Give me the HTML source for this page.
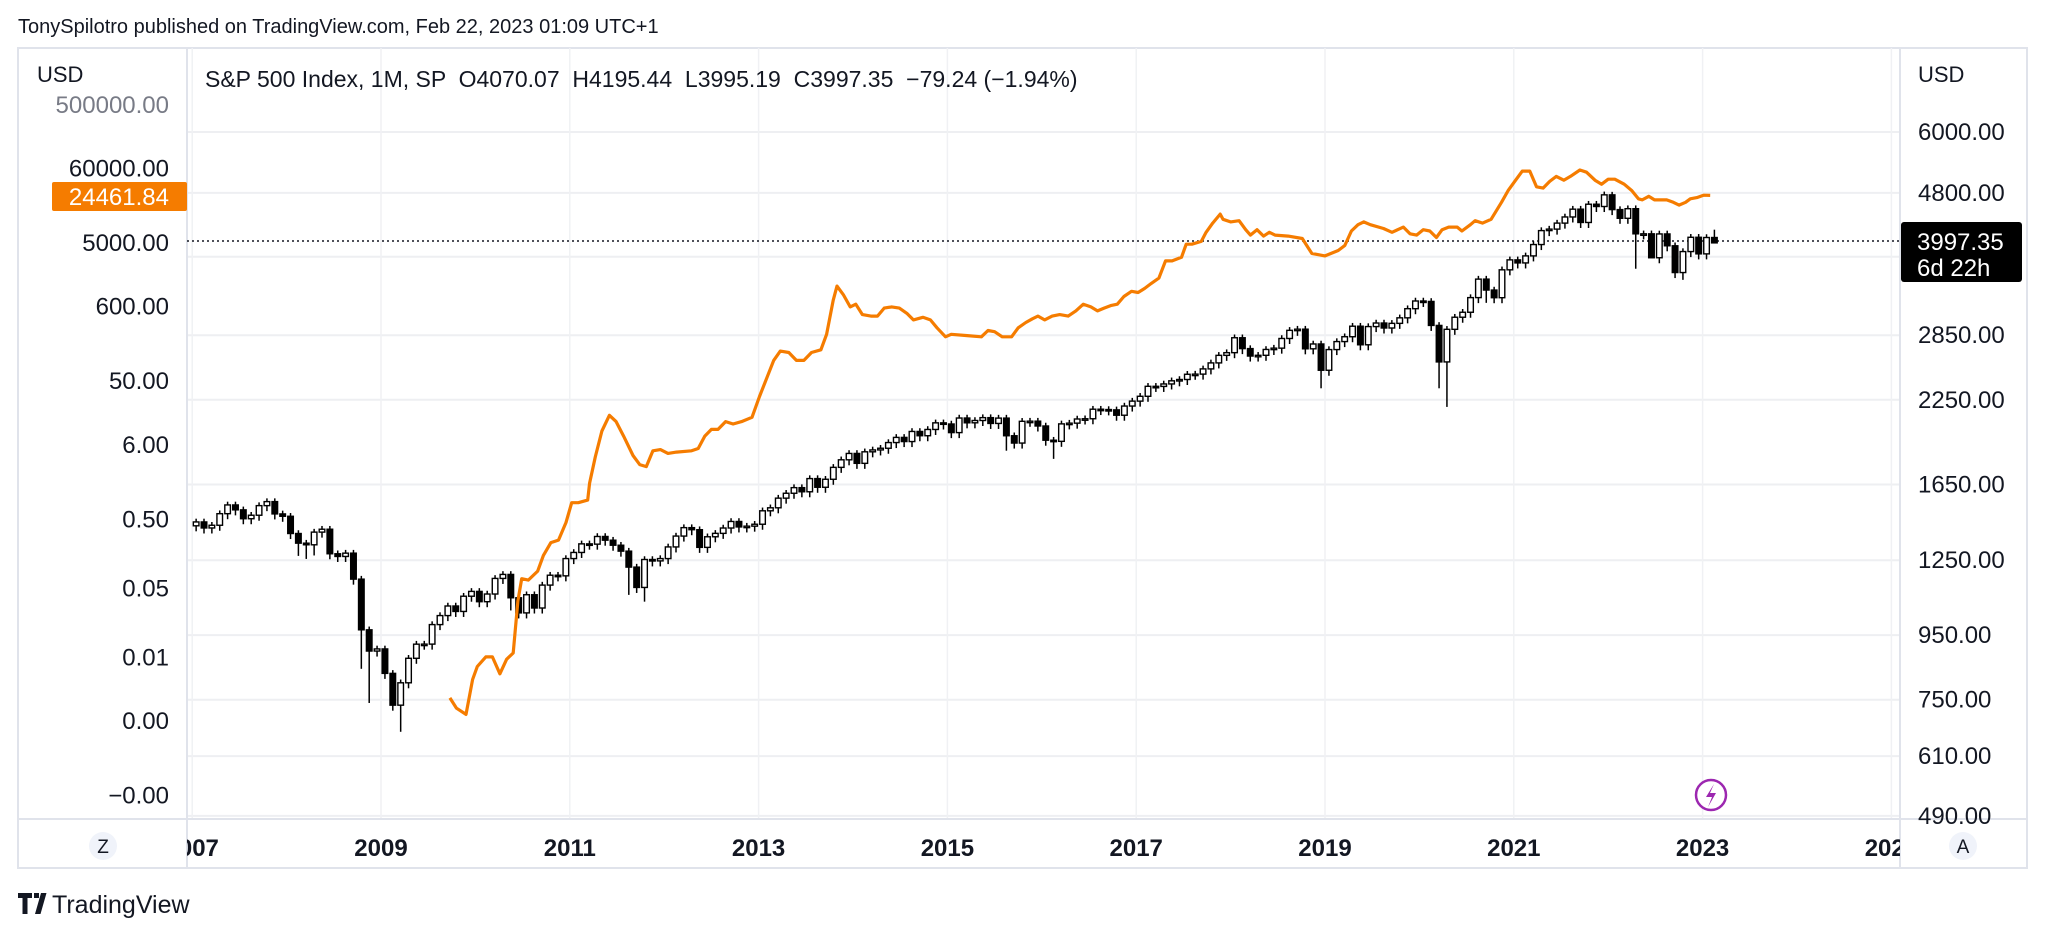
<!DOCTYPE html>
<html><head><meta charset="utf-8"><style>
html,body{margin:0;padding:0;background:#fff;}
body{width:2048px;height:936px;overflow:hidden;font-family:"Liberation Sans",sans-serif;}
svg text{font-family:"Liberation Sans",sans-serif;}
</style></head><body>
<svg id="chart" width="2048" height="936" viewBox="0 0 2048 936" xmlns="http://www.w3.org/2000/svg">
<text x="18" y="33" font-size="20" fill="#131722">TonySpilotro published on TradingView.com, Feb 22, 2023 01:09 UTC+1</text>
<rect x="18" y="48" width="2009" height="820" fill="none" stroke="#e0e3eb" stroke-width="2"/>
<g id="grid"></g>
<line x1="187" y1="48" x2="187" y2="868" stroke="#e0e3eb" stroke-width="2"/>
<line x1="1900" y1="48" x2="1900" y2="868" stroke="#e0e3eb" stroke-width="2"/>
<line x1="18" y1="819" x2="2027" y2="819" stroke="#e0e3eb" stroke-width="2"/>
<text x="37" y="82" font-size="22" fill="#131722">USD</text>
<text x="1918" y="82" font-size="22" fill="#131722">USD</text>
<text x="205" y="87" font-size="23" fill="#131722" xml:space="preserve">S&amp;P 500 Index, 1M, SP  O4070.07  H4195.44  L3995.19  C3997.35  −79.24 (−1.94%)</text>
<g id="leftAxis"></g>
<g id="rightAxis"></g>
<g id="timeAxis"></g>
<line x1="187" y1="241" x2="1900" y2="241" stroke="#131722" stroke-width="1.5" stroke-dasharray="2,3"/>
<g id="candles"></g>
<path id="btc" fill="none" stroke="#f57c00" stroke-width="3.2" stroke-linejoin="round"/>
<rect x="52" y="182" width="135" height="29" rx="2" fill="#f57c00"/>
<text x="169" y="205" font-size="24" fill="#fff" text-anchor="end">24461.84</text>
<rect x="1901" y="222" width="121" height="60" rx="3" fill="#000"/>
<text x="1917" y="250" font-size="24" fill="#fff">3997.35</text>
<text x="1917" y="276" font-size="24" fill="#fff">6d 22h</text>
<g><circle cx="1711" cy="795" r="15" fill="#fff" stroke="#9c27b0" stroke-width="2.5"/><path d="M1714 784 L1706 797 L1712 797 L1708 807 L1716 793 L1710 793 Z" fill="#9c27b0"/></g>
<g><circle cx="103" cy="846" r="14" fill="#f0f3fa"/><text x="103" y="853" font-size="19" fill="#131722" text-anchor="middle">Z</text></g>
<g><circle cx="1963" cy="846" r="14" fill="#f0f3fa"/><text x="1963" y="853" font-size="19" fill="#131722" text-anchor="middle">A</text></g>
<g><path d="M18 893h14v5h-4.5v16h-5v-16h-4.5z M34 893h5v5h-5z M41 893h5.5l-6 21h-5.5z" fill="#131722"/><text x="52" y="913" font-size="25" fill="#131722">TradingView</text></g>
</svg>
<script>
const years=[2007,2009,2011,2013,2015,2017,2019,2021,2023,2025];
const rightTicks=[6000,4800,3800,2850,2250,1650,1250,950,750,610,490];
const rightTickLabels=["6000.00","4800.00","","2850.00","2250.00","1650.00","1250.00","950.00","750.00","610.00","490.00"];
const leftTicks=[500000,60000,5000,600,50,6,0.5,0.05,0.005,0.0006,0.00005];
const leftTickLabels=["500000.00","60000.00","5000.00","600.00","50.00","6.00","0.50","0.05","0.01","0.00","−0.00"];
const spxCloses=[
1438.24,1406.82,1420.86,1482.37,1530.62,1503.35,1455.27,1473.99,1526.75,1549.38,1481.14,1468.36,
1378.55,1330.63,1322.70,1385.59,1400.38,1280.00,1267.38,1282.83,1166.36,968.75,896.24,903.25,
825.88,735.09,797.87,872.81,919.14,919.32,987.48,1020.62,1057.08,1036.19,1095.63,1115.10,
1073.87,1104.49,1169.43,1186.69,1089.41,1030.71,1101.60,1049.33,1141.20,1183.26,1180.55,1257.64,
1286.12,1327.22,1325.83,1363.61,1345.20,1320.64,1292.28,1218.89,1131.42,1253.30,1246.96,1257.60,
1312.41,1365.68,1408.47,1397.91,1310.33,1362.16,1379.32,1406.58,1440.67,1412.16,1416.18,1426.19,
1498.11,1514.68,1569.19,1597.57,1630.74,1606.28,1685.73,1632.97,1681.55,1756.54,1805.81,1848.36,
1782.59,1859.45,1872.34,1883.95,1923.57,1960.23,1930.67,2003.37,1972.29,2018.05,2067.56,2058.90,
1994.99,2104.50,2067.89,2085.51,2107.39,2063.11,2103.84,1972.18,1920.03,2079.36,2080.41,2043.94,
1940.24,1932.23,2059.74,2065.30,2096.95,2098.86,2173.60,2170.95,2168.27,2126.15,2198.81,2238.83,
2278.87,2363.64,2362.72,2384.20,2411.80,2423.41,2470.30,2471.65,2519.36,2575.26,2647.58,2673.61,
2823.81,2713.83,2640.87,2648.05,2705.27,2718.37,2816.29,2901.52,2913.98,2711.74,2760.17,2506.85,
2704.10,2784.49,2834.40,2945.83,2752.06,2941.76,2980.38,2926.46,2976.74,3037.56,3140.98,3230.78,
3225.52,2954.22,2584.59,2912.43,3044.31,3100.29,3271.12,3500.31,3363.00,3269.96,3621.63,3756.07,
3714.24,3811.15,3972.89,4181.17,4204.11,4297.50,4395.26,4522.68,4307.54,4605.38,4567.00,4766.18,
4515.55,4373.94,4530.41,4131.93,4132.15,3785.38,4130.29,3955.00,3585.62,3871.98,4080.11,3839.50,
4076.60,3997.35];
const spxFirstOpen=1418.03;
const spxLowMonths=[13,14,15,21,22,26,40,42,55,57,103,109,143,158,159,164,183,185,189,193];
const spxLowValues=[1270,1256,1272,839.8,741,666.8,1040,1010,1101,1074,1867,1812,2346.6,2346.6,2191.9,3209,3636,3900,3491,3995.2];
const spxHighMonths=[180,193];
const spxHighValues=[4818.6,4195.4];
const btcDates=[2009.73,2009.80,2009.90,2009.97,2010.02,2010.11,2010.18,2010.26,2010.33,2010.40,2010.45,2010.49,2010.56,2010.66,2010.72,2010.80,2010.88,2010.96,2011.02,2011.09,2011.19,2011.21,2011.27,2011.34,2011.42,2011.49,2011.57,2011.67,2011.74,2011.81,2011.88,2011.96,2012.04,2012.13,2012.29,2012.36,2012.43,2012.50,2012.57,2012.65,2012.73,2012.82,2012.93,2013.01,2013.09,2013.16,2013.23,2013.32,2013.40,2013.48,2013.56,2013.66,2013.72,2013.79,2013.83,2013.90,2013.97,2014.03,2014.10,2014.19,2014.26,2014.33,2014.41,2014.49,2014.57,2014.64,2014.74,2014.82,2014.89,2014.98,2015.04,2015.21,2015.36,2015.43,2015.50,2015.58,2015.68,2015.75,2015.83,2015.90,2015.96,2016.03,2016.11,2016.19,2016.28,2016.36,2016.44,2016.52,2016.59,2016.66,2016.73,2016.80,2016.87,2016.95,2017.02,2017.09,2017.16,2017.24,2017.31,2017.38,2017.48,2017.53,2017.59,2017.69,2017.74,2017.81,2017.89,2017.92,2018.00,2018.09,2018.16,2018.21,2018.28,2018.35,2018.41,2018.47,2018.61,2018.76,2018.82,2018.86,2019.00,2019.14,2019.21,2019.28,2019.35,2019.41,2019.48,2019.62,2019.71,2019.83,2019.90,2019.97,2020.04,2020.11,2020.18,2020.24,2020.31,2020.40,2020.45,2020.54,2020.59,2020.67,2020.76,2020.87,2020.94,2021.01,2021.09,2021.17,2021.24,2021.31,2021.38,2021.45,2021.53,2021.60,2021.70,2021.77,2021.86,2021.93,2022.00,2022.07,2022.17,2022.25,2022.32,2022.36,2022.43,2022.49,2022.62,2022.69,2022.75,2022.82,2022.87,2022.94,2023.01,2023.08];
const btcValues=[0.0013,0.00092,0.00075,0.0024,0.0037,0.0051,0.0051,0.0029,0.0047,0.0058,0.033,0.069,0.066,0.089,0.15,0.23,0.25,0.45,0.87,0.87,0.95,1.67,4.0,9.5,16,13,8,4.2,3.1,2.9,4.9,5.1,4.5,4.7,4.9,5.3,8,10,10,13,12,13,15,30,57,100,136,130,100,100,130,142,238,740,1190,880,594,650,460,437,437,570,594,570,480,385,420,385,296,219,238,228,219,271,260,219,219,296,353,400,437,385,437,460,437,520,650,594,520,570,620,650,840,1000,960,1100,1300,1550,2750,2750,3100,4800,4800,5270,7150,9700,13100,11000,10100,10500,7800,6500,7800,6300,7150,6500,6300,5800,4300,3540,3250,3900,4600,7450,9200,10100,9200,8100,7150,8500,6800,6500,7800,7450,6000,7800,8500,8500,7450,9200,10500,9700,11000,19400,28700,39000,55000,55000,32600,31200,39000,46000,40500,46000,57000,53000,40500,35500,42000,42000,35500,28700,21800,21000,23700,21000,21000,19400,17700,19400,21800,22700,24600,24462];

const NS="http://www.w3.org/2000/svg";
const X0=187,X1=1900,Y0=48,YB=819;
const xYear=y=>381+(y-2009)*94.4;
const yR=v=>132+(Math.log(6000)-Math.log(v))*273;
const yL=v=>243+(Math.log(5000)-Math.log(v))*30;
function mk(tag,attrs,parent){const e=document.createElementNS(NS,tag);for(const k in attrs)e.setAttribute(k,attrs[k]);parent.appendChild(e);return e;}
const grid=document.getElementById('grid');
rightTicks.forEach((t,i)=>{const y=yR(t);
 const l=mk('line',{x1:X0,x2:X1,y1:y,y2:y,stroke:'#eeeff2','stroke-width':2},grid);
 
 
 if(rightTickLabels[i]){const tx=mk('text',{x:1918,y:y+8,'font-size':24,fill:'#131722'},document.getElementById('rightAxis'));tx.textContent=rightTickLabels[i];
 
 }
});
years.forEach(yr=>{const x=xYear(yr);
 if(x>X0&&x<X1){const l=mk('line',{x1:x,x2:x,y1:Y0,y2:YB,stroke:'#f0f1f4','stroke-width':1.5},grid);
 
 }
});
const ta=document.getElementById('timeAxis');
const clip=mk('clipPath',{id:'tclip'},document.getElementById('chart'));mk('rect',{x:X0,y:820,width:X1-X0,height:48},clip);
years.forEach(yr=>{const tx=mk('text',{x:xYear(yr),y:856,'font-size':24,'font-weight':'bold',fill:'#131722','text-anchor':'middle','clip-path':'url(#tclip)'},ta);tx.textContent=String(yr);
 
 });
const la=document.getElementById('leftAxis');
leftTicks.forEach((t,i)=>{const tx=mk('text',{x:169,y:yL(t)+8,'font-size':24,fill:i===0?'#787b86':'#131722','text-anchor':'end'},la);tx.textContent=leftTickLabels[i];
 
 });
const cg=document.getElementById('candles');
const lowMap={},highMap={};spxLowMonths.forEach((m,i)=>lowMap[m]=spxLowValues[i]);spxHighMonths.forEach((m,i)=>highMap[m]=spxHighValues[i]);
spxCloses.forEach((c,i)=>{const o=i===0?spxFirstOpen:spxCloses[i-1];
 const hi=highMap[i]||Math.max(o,c)*1.012, lo=lowMap[i]||Math.min(o,c)*0.98;
 const x=xYear(2007+(i+0.5)/12), up=c>=o;
 const g=mk('g',{},cg);
 
 
 mk('line',{x1:x,x2:x,y1:yR(hi),y2:yR(lo),stroke:'#000','stroke-width':1.5},g);
 const yt=yR(Math.max(o,c)),yb=yR(Math.min(o,c));
 mk('rect',{x:x-2.8,y:yt,width:5.6,height:Math.max(1.5,yb-yt),fill:up?'#fff':'#000',stroke:'#000','stroke-width':1.4},g);
});
let d='';btcDates.forEach((t,i)=>{d+=(i?'L':'M')+xYear(t).toFixed(1)+' '+yL(btcValues[i]).toFixed(1)+' ';});
document.getElementById('btc').setAttribute('d',d);
</script>
</body></html>
